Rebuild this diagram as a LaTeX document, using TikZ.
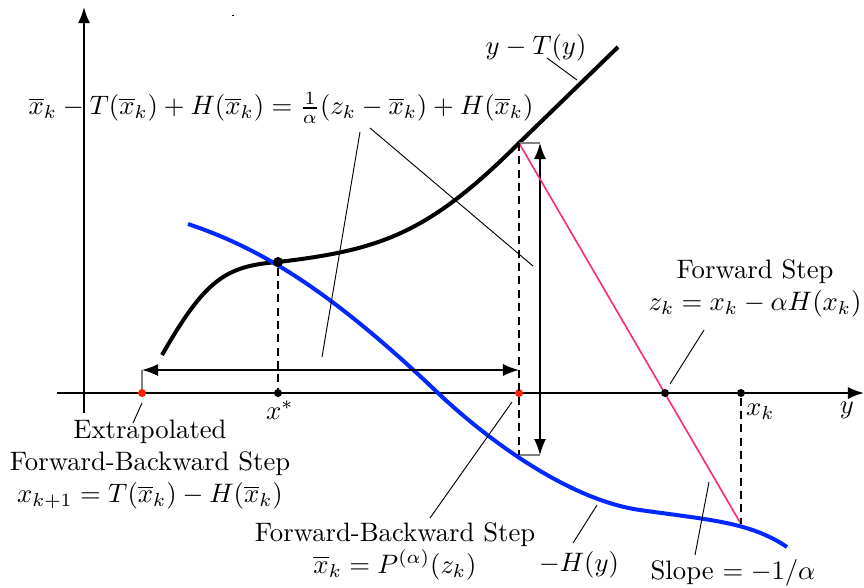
\documentclass[tikz,border=0pt]{standalone}
\usepackage{amsmath}
\usetikzlibrary{arrows.meta, positioning}
\definecolor{fbblue}{RGB}{0,40,255}
\definecolor{fbpink}{RGB}{255,40,110}
\definecolor{fbred}{RGB}{255,30,0}
\tikzset{axis/.style={line width=0.75pt,-{Latex[length=6pt,width=4.5pt]}},curve/.style={line width=1.5pt},guide/.style={line width=0.8pt,dash pattern=on 3pt off 2pt},leader/.style={line width=0.35pt},span/.style={line width=0.55pt,{Latex[length=6pt,width=4.5pt]}-{Latex[length=6pt,width=4.5pt]}},tick/.style={gray,line width=0.55pt},dot/.style={circle,fill,inner sep=0pt,minimum size=3pt},txt/.style={align=center,inner sep=1pt}}

\begin{document}
\begin{tikzpicture}[x=0.01317cm, y=-0.01317cm]
\useasboundingbox (0,0) rectangle (864,587);
\draw[axis] (57,393) -- (864,393);
\draw[axis] (84,413) -- (84,7);
\fill (232,15) rectangle (234,16);

\draw[curve] (162,355) .. controls (205,280) and (225,266) .. (278,262)
  .. controls (380,250) and (428,234) .. (519,143) -- (618,47);
\draw[curve, fbblue] (188,224) .. controls (260,248) and (330,290) .. (438,393)
  .. controls (490,442) and (570,500) .. (640,510)
  .. controls (710,520) and (750,522) .. (787,547);

\coordinate (pk) at (519,143);
\coordinate (hk) at (741,524);
\coordinate (bot) at (519,455);
\coordinate (l1) at (142,370);
\coordinate (r1) at (519,370);
\coordinate (t2) at (540,143);
\coordinate (b2) at (540,455);

\draw[tick] (142,393) -- (l1);
\draw[tick] (pk) -- (t2);
\draw[tick] (bot) -- (b2);
\draw[span] (l1) -- (r1);
\draw[span] (t2) -- (b2);
\draw[fbpink, line width=0.6pt] (pk) -- (hk);

\node[dot, minimum size=3.8pt] (xs) at (278,262) {};
\node[dot] (xsa) at (278,393) {};
\node[dot] (zk) at (665,393) {};
\node[dot] (xk) at (741,393) {};
\node[dot, fbred] (xn) at (142,393) {};
\node[dot, fbred] (xb) at (519,393) {};
\draw[guide] (xs) -- (xsa);
\draw[guide] (pk) -- (bot);
\draw[guide] (xk) -- (hk);

\node[txt] (ytl) at (536,48) {$y-T(y)$};
\node[txt] (eq) at (281,108) {$\overline{x}_k - T(\overline{x}_k) + H(\overline{x}_k) = \frac{1}{\alpha}(z_k - \overline{x}_k) + H(\overline{x}_k)$};
\node[txt] (fs) at (755,288) {Forward Step\\$z_k = x_k - \alpha H(x_k)$};
\node[txt] (xsl) at (280,410) {$x^*$};
\node[txt, anchor=west] (xkl) at (743,412) {$x_k$};
\node[txt] (yl) at (847,410) {$y$};
\node[txt] (efb) at (150,465) {Extrapolated\\Forward-Backward Step\\$x_{k+1} = T(\overline{x}_k) - H(\overline{x}_k)$};
\node[txt] (fb) at (395,551) {Forward-Backward Step\\$\overline{x}_k = P^{(\alpha)}(z_k)$};
\node[txt] (hl) at (579,565) {$-H(y)$};
\node[txt] (sl) at (733,573) {Slope $= -1/\alpha$};

\coordinate (a1) at (547,58);  \coordinate (a2) at (577,80);
\coordinate (b1) at (360,132); \coordinate (b3) at (322,357);
\coordinate (c1) at (370,128); \coordinate (c3) at (533,266);
\coordinate (d1) at (704,330); \coordinate (d2) at (670,384);
\coordinate (e1) at (142,403); \coordinate (e2) at (133,423);
\coordinate (f1) at (512,402); \coordinate (f2) at (430,518);
\coordinate (g1) at (597,505); \coordinate (g2) at (573,543);
\coordinate (h1) at (709,482); \coordinate (h2) at (695,555);
\draw[leader] (a1) -- (a2);
\draw[leader] (b1) -- (b3);
\draw[leader] (c1) -- (c3);
\draw[leader] (d1) -- (d2);
\draw[leader] (e1) -- (e2);
\draw[leader] (f1) -- (f2);
\draw[leader] (g1) -- (g2);
\draw[leader] (h1) -- (h2);
\end{tikzpicture}
\end{document}
